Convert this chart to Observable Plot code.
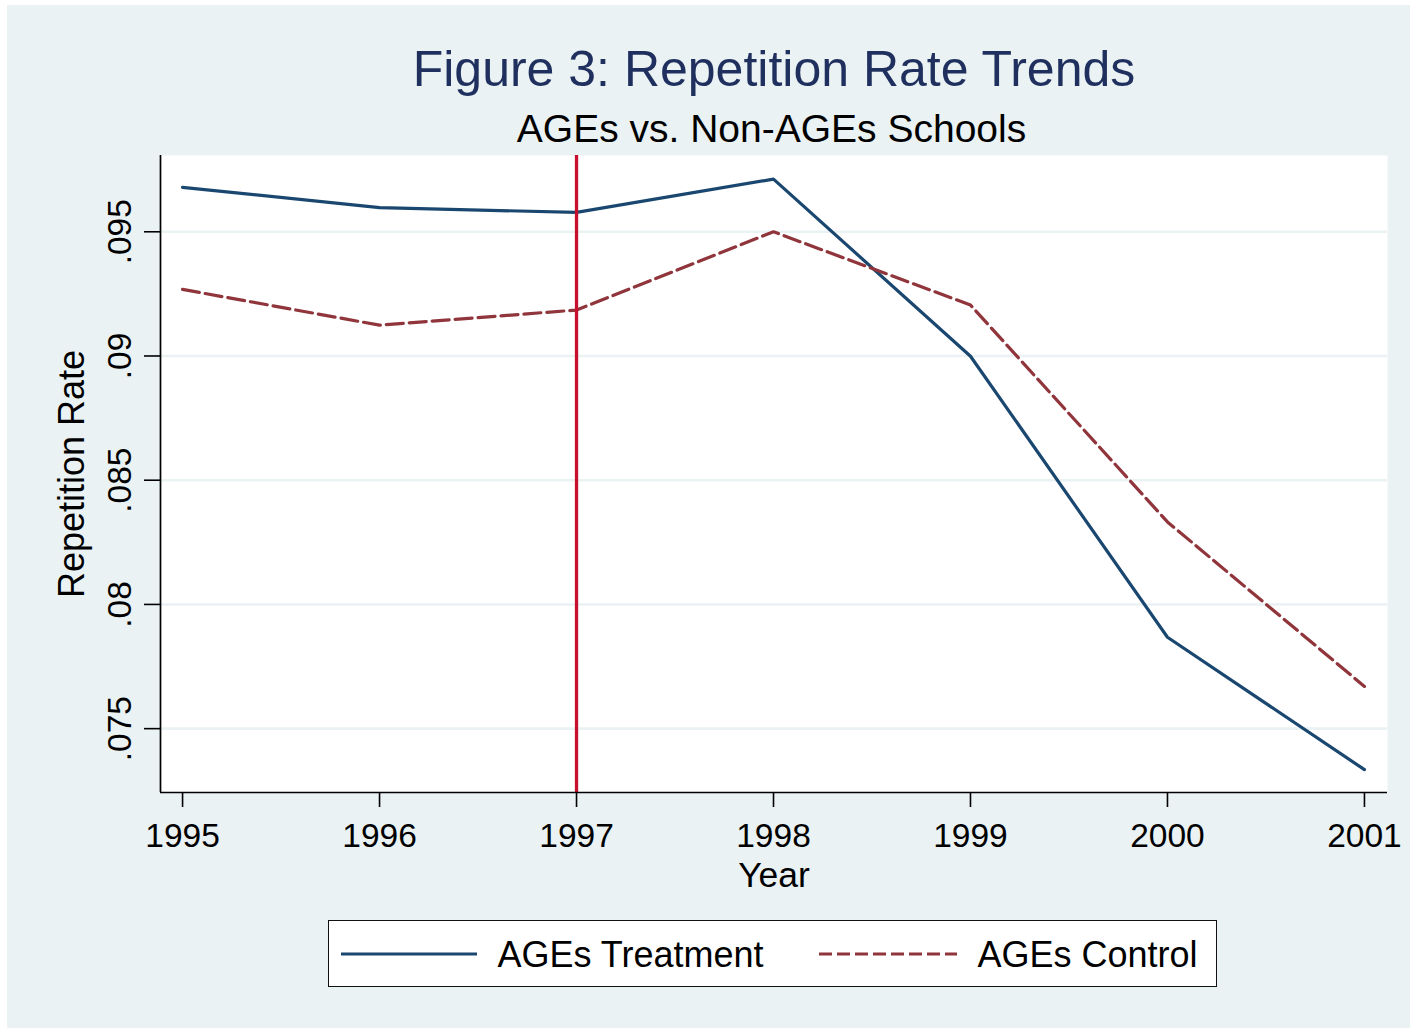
<!DOCTYPE html>
<html>
<head>
<meta charset="utf-8">
<script src="https://cdn.jsdelivr.net/npm/d3@7"></script>
<script src="https://cdn.jsdelivr.net/npm/@observablehq/plot@0.6"></script>
<style>
  html, body { margin: 0; padding: 0; background: #ffffff; }
  body { width: 1414px; height: 1031px; position: relative; overflow: hidden;
         font-family: "Liberation Sans", Arial, sans-serif; }
  #bg { position: absolute; left: 7px; top: 5px; width: 1403px; height: 1023px; background: #EAF2F3; }
  .t { position: absolute; line-height: 1; white-space: nowrap; }
  #chart { position: absolute; left: 0; top: 0; }
  #legend { position: absolute; left: 328px; top: 920px; width: 889px; height: 67px;
            box-sizing: border-box; border: 1.6px solid #111; background: #fff; }
</style>
</head>
<body>
<div id="bg"></div>
<div id="chart"></div>
<div class="t" id="title" style="left:0;width:1548px;text-align:center;top:43.7px;font-size:50px;color:#1F2F5E;">Figure 3: Repetition Rate Trends</div>
<div class="t" id="subtitle" style="left:0;width:1543px;text-align:center;top:109px;font-size:39px;color:#000;">AGEs vs. Non-AGEs Schools</div>
<div id="legend"></div>
<script>
// ---- data ----
const years = [1995, 1996, 1997, 1998, 1999, 2000, 2001];
const treatment = [0.09679, 0.09597, 0.09578, 0.09712, 0.08999, 0.07868, 0.07335];
const control   = [0.09268, 0.09124, 0.09185, 0.09500, 0.09205, 0.08332, 0.07670];
const yTicks = [0.075, 0.08, 0.085, 0.09, 0.095];
const yTickLabels = [".075", ".08", ".085", ".09", ".095"];
const seriesNames = ["AGEs Treatment", "AGEs Control"];
const interventionYear = 1997;

const colors = {treat: "#1A476F", ctrl: "#90353B", vline: "#C8102E", grid: "#EAF2F3"};

const rows = [];
years.forEach((yr, i) => {
  rows.push({year: yr, value: treatment[i], series: seriesNames[0]});
  rows.push({year: yr, value: control[i], series: seriesNames[1]});
});
const treatRows = rows.filter(d => d.series === seriesNames[0]);
const ctrlRows = rows.filter(d => d.series === seriesNames[1]);
const tickRows = yTicks.map((v, i) => ({v, label: yTickLabels[i]}));

const xDomain = [1994.888, 2001.117];
const yDomain = [0.07243, 0.09807];

const fontFamily = '"Liberation Sans", Arial, sans-serif';

const chart = Plot.plot({
  width: 1414,
  height: 900,
  marginTop: 155,
  marginLeft: 160,
  marginRight: 27,
  marginBottom: 108,
  style: {background: "transparent", fontFamily, fontSize: "33.5px", color: "#000", overflow: "visible"},
  x: {domain: xDomain, axis: null},
  y: {domain: yDomain, axis: null},
  marks: [
    Plot.frame({fill: "white", stroke: null}),
    Plot.ruleY(yTicks, {stroke: colors.grid, strokeWidth: 2.6}),
    Plot.line(treatRows, {x: "year", y: "value", stroke: colors.treat, strokeWidth: 3.2}),
    Plot.line(ctrlRows, {x: "year", y: "value", stroke: colors.ctrl, strokeWidth: 3.2, strokeDasharray: "17,6"}),
    Plot.ruleX([interventionYear], {stroke: colors.vline, strokeWidth: 3.3}),
    Plot.ruleX([xDomain[0]], {stroke: "#000", strokeWidth: 1.7}),
    Plot.ruleY([yDomain[0]], {stroke: "#000", strokeWidth: 1.7}),
    Plot.axisX({ticks: years, tickFormat: d => String(d), tickSize: 15, tickPadding: 16,
                fontSize: 33.5, label: null, stroke: "#000", strokeWidth: 1.6}),
    Plot.axisY({ticks: yTicks, tickFormat: () => "", tickSize: 16, label: null, stroke: "#000", strokeWidth: 1.6}),
    Plot.text(tickRows, {x: () => xDomain[0], y: "v", text: "label", rotate: -90, dx: -30,
                         textAnchor: "middle", lineAnchor: "bottom", fontSize: 33.5, fill: "#000"}),
    Plot.text(["Repetition Rate"], {frameAnchor: "left", rotate: -90, dx: -77, lineAnchor: "bottom",
                                    textAnchor: "middle", fontSize: 36, fill: "#000"}),
    Plot.text(["Year"], {frameAnchor: "bottom", dy: 94.7, lineAnchor: "bottom", textAnchor: "middle",
                         fontSize: 35.5, fill: "#000"})
  ]
});
document.getElementById("chart").appendChild(chart);

// ---- legend ----
const legend = document.getElementById("legend");
const lx = 328, ly = 920;
function addItem(x1, x2, color, dash, label, tx) {
  const s = document.createElementNS("http://www.w3.org/2000/svg", "svg");
  s.setAttribute("width", 1414); s.setAttribute("height", 100);
  s.style.position = "absolute"; s.style.left = (-lx - 1.6) + "px"; s.style.top = (-ly - 1.6) + "px";
  s.style.overflow = "visible";
  const l = document.createElementNS("http://www.w3.org/2000/svg", "line");
  l.setAttribute("x1", x1); l.setAttribute("x2", x2);
  l.setAttribute("y1", ly + 35); l.setAttribute("y2", ly + 35);
  l.setAttribute("stroke", color); l.setAttribute("stroke-width", 3.2);
  if (dash) l.setAttribute("stroke-dasharray", dash);
  s.appendChild(l);
  legend.appendChild(s);
  const t = document.createElement("div");
  t.className = "t";
  t.textContent = label;
  t.style.left = (tx - lx - 1.6) + "px";
  t.style.top = (937.5 - ly - 1.6) + "px";
  t.style.fontSize = "36px";
  t.style.color = "#000";
  legend.appendChild(t);
}
addItem(342, 478, colors.treat, null, seriesNames[0], 498);
addItem(820, 958, colors.ctrl, "13,5", seriesNames[1], 978);
</script>
</body>
</html>
